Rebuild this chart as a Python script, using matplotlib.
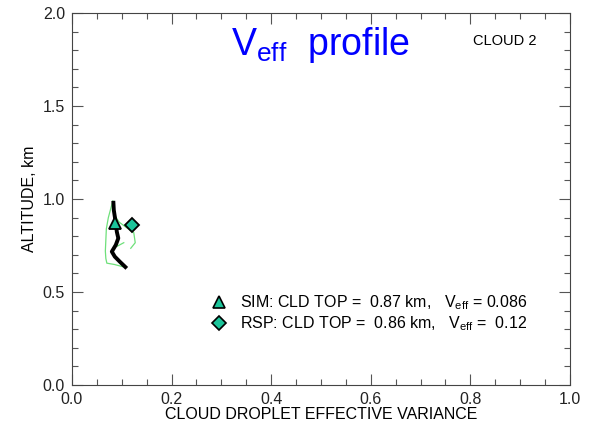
import matplotlib
matplotlib.use("Agg")
import matplotlib.pyplot as plt
from matplotlib.ticker import MultipleLocator

plt.rcParams["font.family"] = ["Liberation Sans", "DejaVu Sans"]
plt.rcParams["mathtext.fontset"] = "custom"
plt.rcParams["mathtext.rm"] = "Liberation Sans"
plt.rcParams["mathtext.it"] = "Liberation Sans"

# black profile (simulated)
sim_veff = [0.083, 0.084, 0.088, 0.090, 0.093, 0.088, 0.080, 0.086, 0.096, 0.110]
sim_alt = [0.99, 0.94, 0.87, 0.824, 0.789, 0.753, 0.717, 0.690, 0.663, 0.627]

# thin green profiles
green1_veff = [0.082, 0.078, 0.073, 0.069, 0.068, 0.067, 0.068, 0.070, 0.085, 0.102]
green1_alt = [0.99, 0.95, 0.90, 0.84, 0.78, 0.72, 0.68, 0.655, 0.648, 0.636]
green2_veff = [0.086, 0.095, 0.110, 0.124, 0.127, 0.118]
green2_alt = [0.91, 0.875, 0.845, 0.82, 0.765, 0.735]
green3_veff = [0.090, 0.104]
green3_alt = [0.745, 0.765]

# cloud top points
sim_top = (0.086, 0.87)
rsp_top = (0.12, 0.86)
sim_label = "SIM: CLD TOP =  0.87 km,   V$_{\\mathrm{eff}}$ = 0.086"
rsp_label = "RSP: CLD TOP =  0.86 km,   V$_{\\mathrm{eff}}$ =  0.12"

teal = "#1CC49A"
green = "#6EE07A"

fig = plt.figure(figsize=(5.92, 4.29), dpi=100)
ax = fig.add_axes([0.1216, 0.1026, 0.8412, 0.8671])

ax.plot(green1_veff, green1_alt, color=green, lw=0.9)
ax.plot(green2_veff, green2_alt, color=green, lw=0.9)
ax.plot(green3_veff, green3_alt, color=green, lw=0.9)
ax.plot(sim_veff, sim_alt, color="black", lw=2.8, solid_capstyle="butt")
ax.plot(*sim_top, marker="^", ms=9, mfc=teal, mec="black", mew=1.3, ls="none")
ax.plot(*rsp_top, marker="D", ms=7.5, mfc=teal, mec="black", mew=1.3, ls="none")

ax.set_xlim(0, 1)
ax.set_ylim(0, 2)
ax.xaxis.set_major_locator(MultipleLocator(0.2))
ax.xaxis.set_minor_locator(MultipleLocator(0.05))
ax.yaxis.set_major_locator(MultipleLocator(0.5))
ax.yaxis.set_minor_locator(MultipleLocator(0.1))
ax.xaxis.set_major_formatter(lambda v, p: f"{v:.1f}")
ax.yaxis.set_major_formatter(lambda v, p: f"{v:.1f}")
ax.tick_params(which="both", direction="in", top=True, right=True,
               labelsize=11.5, color="#555555", labelcolor="#222222", pad=5)
ax.tick_params(which="major", length=8, width=0.8)
ax.tick_params(which="minor", length=4, width=0.8)
for s in ax.spines.values():
    s.set_linewidth(0.8)
    s.set_color("#444444")

ax.set_xlabel("CLOUD DROPLET EFFECTIVE VARIANCE", fontsize=11.5, labelpad=0)
ax.set_ylabel("ALTITUDE, km", fontsize=11.5, labelpad=4)

ax.text(0.5, 0.915, "V$_{\\mathrm{eff}}$  profile", transform=ax.transAxes,
        ha="center", va="center", fontsize=27, color="#0000FF")
ax.text(0.87, 0.925, "CLOUD 2", transform=ax.transAxes,
        ha="center", va="center", fontsize=10.5)

lx = 0.295
ax.plot(lx, 0.223, transform=ax.transAxes, marker="^", ms=8, mfc=teal,
        mec="black", mew=1.2, ls="none", clip_on=False)
ax.plot(lx, 0.167, transform=ax.transAxes, marker="D", ms=7, mfc=teal,
        mec="black", mew=1.2, ls="none", clip_on=False)
ax.text(0.337, 0.221, sim_label, transform=ax.transAxes, va="center", fontsize=11.5)
ax.text(0.337, 0.165, rsp_label, transform=ax.transAxes, va="center", fontsize=11.5)

fig.savefig("out.png", dpi=100)
